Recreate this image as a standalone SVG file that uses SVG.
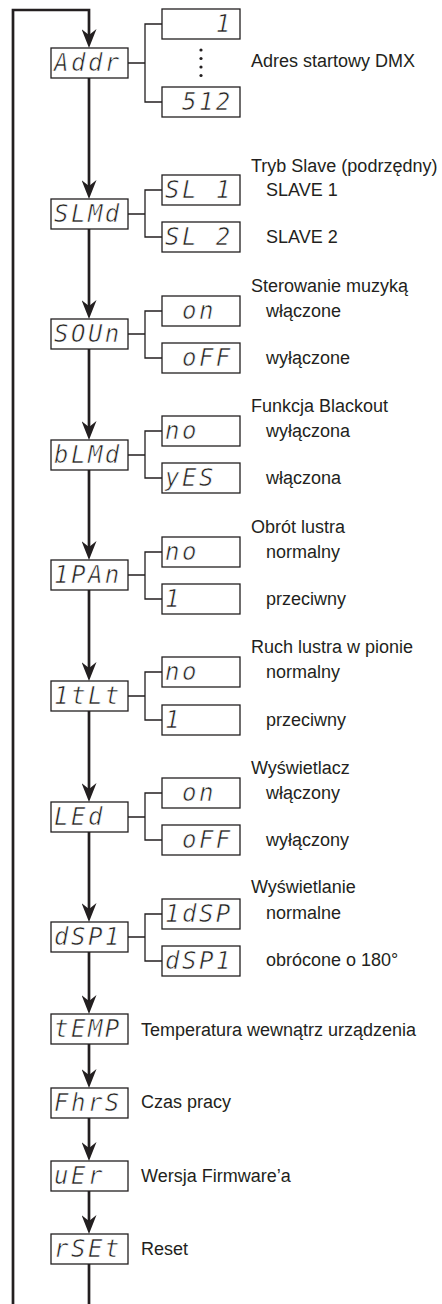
<svg xmlns="http://www.w3.org/2000/svg" width="442" height="1304" viewBox="0 0 442 1304">
<style>
.bg{fill:#ffffff}
.box{fill:#ffffff;stroke:#231f20;stroke-width:1.3}
.main{fill:none;stroke:#231f20;stroke-width:2.7;stroke-linejoin:miter}
.br{fill:none;stroke:#231f20;stroke-width:1.3}
.seg{font-family:"DejaVu Sans Mono","Liberation Mono",monospace;font-style:oblique;font-size:24px;letter-spacing:2.5px;fill:#231f20;stroke:#ffffff;stroke-width:0.6px;white-space:pre}
.lbl{font-family:"Liberation Sans",Arial,sans-serif;font-size:18px;fill:#231f20}
.dot{fill:#231f20}
</style>
<defs>
<marker id="ah" markerUnits="userSpaceOnUse" markerWidth="19" markerHeight="15" viewBox="0 0 19 15" refX="9" refY="7.5" orient="auto">
<path d="M0,0 L19,7.5 L0,15 L6,7.5 Z" fill="#231f20"/>
</marker>
</defs>
<rect class="bg" x="0" y="0" width="442" height="1304"/>
<g id="connectors">
<path class="main" d="M13,1304 V10 H89 V38" marker-end="url(#ah)"/>
<line class="main" x1="89" y1="78" x2="89" y2="189" marker-end="url(#ah)"/>
<line class="main" x1="89" y1="229" x2="89" y2="309" marker-end="url(#ah)"/>
<line class="main" x1="89" y1="349" x2="89" y2="430" marker-end="url(#ah)"/>
<line class="main" x1="89" y1="470" x2="89" y2="550" marker-end="url(#ah)"/>
<line class="main" x1="89" y1="590" x2="89" y2="671" marker-end="url(#ah)"/>
<line class="main" x1="89" y1="711" x2="89" y2="792" marker-end="url(#ah)"/>
<line class="main" x1="89" y1="832" x2="89" y2="912" marker-end="url(#ah)"/>
<line class="main" x1="89" y1="952" x2="89" y2="1004" marker-end="url(#ah)"/>
<line class="main" x1="89" y1="1044" x2="89" y2="1078" marker-end="url(#ah)"/>
<line class="main" x1="89" y1="1118" x2="89" y2="1151" marker-end="url(#ah)"/>
<line class="main" x1="89" y1="1191" x2="89" y2="1224" marker-end="url(#ah)"/>
<line class="main" x1="89" y1="1264" x2="89" y2="1304"/>
<path class="br" d="M128,63 H145 M162,24 H145 V102 H162"/>
<path class="br" d="M128,214 H145 M162,190 H145 V237 H162"/>
<path class="br" d="M128,334 H145 M162,311 H145 V358 H162"/>
<path class="br" d="M128,455 H145 M162,431 H145 V478 H162"/>
<path class="br" d="M128,575 H145 M162,552 H145 V599 H162"/>
<path class="br" d="M128,696 H145 M162,672 H145 V720 H162"/>
<path class="br" d="M128,817 H145 M162,793 H145 V840 H162"/>
<path class="br" d="M128,937 H145 M162,914 H145 V961 H162"/>
</g>

<g id="node-addr">
<rect class="box" x="51" y="48" width="77" height="30"/>
<text class="seg" x="54" y="71">Addr</text>
<rect class="box" x="162" y="9" width="78" height="30"/>
<text class="seg" x="165" y="32">   1</text>
<circle class="dot" cx="201" cy="50" r="1.6"/>
<circle class="dot" cx="201" cy="58.5" r="1.6"/>
<circle class="dot" cx="201" cy="67" r="1.6"/>
<circle class="dot" cx="201" cy="75.5" r="1.6"/>
<rect class="box" x="162" y="87" width="78" height="30"/>
<text class="seg" x="165" y="110"> 512</text>
<text class="lbl" x="251" y="67">Adres startowy DMX</text>
</g>

<g id="node-slmd">
<rect class="box" x="51" y="199" width="77" height="30"/>
<text class="seg" x="54" y="222">SLMd</text>
<rect class="box" x="162" y="175" width="78" height="30"/>
<text class="seg" x="165" y="198">SL 1</text>
<rect class="box" x="162" y="222" width="78" height="30"/>
<text class="seg" x="165" y="245">SL 2</text>
<text class="lbl" x="251" y="172">Tryb Slave (podrzędny)</text>
<text class="lbl" x="266" y="196">SLAVE 1</text>
<text class="lbl" x="266" y="243">SLAVE 2</text>
</g>

<g id="node-soun">
<rect class="box" x="51" y="319" width="77" height="30"/>
<text class="seg" x="54" y="342">SOUn</text>
<rect class="box" x="162" y="296" width="78" height="30"/>
<text class="seg" x="165" y="319"> on</text>
<rect class="box" x="162" y="343" width="78" height="30"/>
<text class="seg" x="165" y="366"> oFF</text>
<text class="lbl" x="251" y="292">Sterowanie muzyką</text>
<text class="lbl" x="266" y="317">włączone</text>
<text class="lbl" x="266" y="364">wyłączone</text>
</g>

<g id="node-blmd">
<rect class="box" x="51" y="440" width="77" height="30"/>
<text class="seg" x="54" y="463">bLMd</text>
<rect class="box" x="162" y="416" width="78" height="30"/>
<text class="seg" x="165" y="439">no</text>
<rect class="box" x="162" y="463" width="78" height="30"/>
<text class="seg" x="165" y="486">yES</text>
<text class="lbl" x="251" y="412">Funkcja Blackout</text>
<text class="lbl" x="266" y="437">wyłączona</text>
<text class="lbl" x="266" y="484">włączona</text>
</g>

<g id="node-ipan">
<rect class="box" x="51" y="560" width="77" height="30"/>
<text class="seg" x="54" y="583">1PAn</text>
<rect class="box" x="162" y="537" width="78" height="30"/>
<text class="seg" x="165" y="560">no</text>
<rect class="box" x="162" y="584" width="78" height="30"/>
<text class="seg" x="165" y="607">1</text>
<text class="lbl" x="251" y="533">Obrót lustra</text>
<text class="lbl" x="266" y="558">normalny</text>
<text class="lbl" x="266" y="605">przeciwny</text>
</g>

<g id="node-itlt">
<rect class="box" x="51" y="681" width="77" height="30"/>
<text class="seg" x="54" y="704">1tLt</text>
<rect class="box" x="162" y="657" width="78" height="30"/>
<text class="seg" x="165" y="680">no</text>
<rect class="box" x="162" y="705" width="78" height="30"/>
<text class="seg" x="165" y="728">1</text>
<text class="lbl" x="251" y="653">Ruch lustra w pionie</text>
<text class="lbl" x="266" y="678">normalny</text>
<text class="lbl" x="266" y="726">przeciwny</text>
</g>

<g id="node-led">
<rect class="box" x="51" y="802" width="77" height="30"/>
<text class="seg" x="54" y="825">LEd</text>
<rect class="box" x="162" y="778" width="78" height="30"/>
<text class="seg" x="165" y="801"> on</text>
<rect class="box" x="162" y="825" width="78" height="30"/>
<text class="seg" x="165" y="848"> oFF</text>
<text class="lbl" x="251" y="774">Wyświetlacz</text>
<text class="lbl" x="266" y="799">włączony</text>
<text class="lbl" x="266" y="846">wyłączony</text>
</g>

<g id="node-dsp">
<rect class="box" x="51" y="922" width="77" height="30"/>
<text class="seg" x="54" y="945">dSP1</text>
<rect class="box" x="162" y="899" width="78" height="30"/>
<text class="seg" x="165" y="922">1dSP</text>
<rect class="box" x="162" y="946" width="78" height="30"/>
<text class="seg" x="165" y="969">dSP1</text>
<text class="lbl" x="251" y="893">Wyświetlanie</text>
<text class="lbl" x="266" y="919">normalne</text>
<text class="lbl" x="266" y="966">obrócone o 180°</text>
</g>

<g id="node-temp">
<rect class="box" x="51" y="1014" width="77" height="30"/>
<text class="seg" x="54" y="1037">tEMP</text>
<text class="lbl" x="141" y="1036">Temperatura wewnątrz urządzenia</text>
</g>

<g id="node-fhrs">
<rect class="box" x="51" y="1088" width="77" height="30"/>
<text class="seg" x="54" y="1111">FhrS</text>
<text class="lbl" x="141" y="1108">Czas pracy</text>
</g>

<g id="node-ver">
<rect class="box" x="51" y="1161" width="77" height="30"/>
<text class="seg" x="54" y="1184">uEr</text>
<text class="lbl" x="141" y="1182">Wersja Firmware’a</text>
</g>

<g id="node-rset">
<rect class="box" x="51" y="1234" width="77" height="30"/>
<text class="seg" x="54" y="1257">rSEt</text>
<text class="lbl" x="141" y="1255">Reset</text>
</g>
</svg>
